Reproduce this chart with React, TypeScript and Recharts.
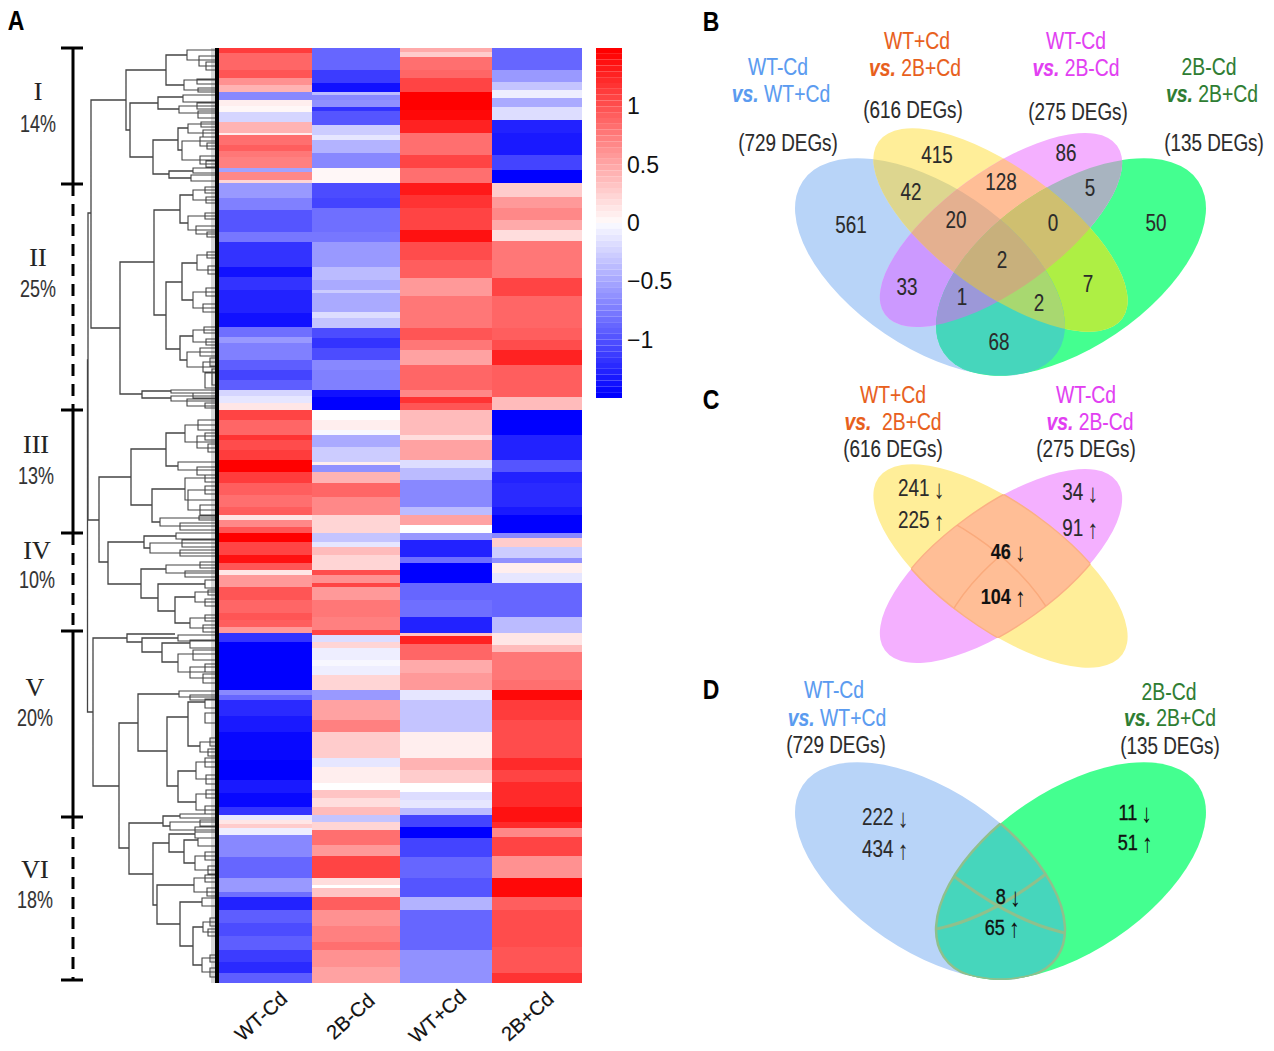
import { BarChart, Bar, XAxis, YAxis, ComposedChart, Line, ScatterChart, Scatter } from "recharts";

// heatmap: each column is a run of bands, edges = last row of the band (935 rows in total)
const samples = ["WT-Cd", "2B-Cd", "WT+Cd", "2B+Cd"];
const wtCdEdges = [5,22,30,37,44,52,58,64,74,85,87,97,103,109,120,124,132,135,150,162,184,194,219,229,242,265,279,289,295,312,322,332,342,348,355,362,372,387,392,402,412,424,435,447,459,467,472,479,485,494,507,515,522,527,539,552,565,572,579,585,594,642,647,652,668,684,712,732,745,759,767,772,776,780,787,809,830,844,849,862,875,888,902,914,925,935];
const wtCdZ = [1.15,.9,1,.65,.45,-.7,.1,.05,-.25,.45,.1,.85,.95,.8,.75,-.55,.7,.25,-.6,-.75,-1,-.8,-1.2,-1.4,-1.2,-1.3,-1.4,-.85,-.6,-.75,-.95,-1.1,-.95,-.25,-.15,.15,1.1,.9,1.2,1.05,1.15,1.5,1.15,.95,.85,.95,.15,.7,1,1.5,1.1,1.4,1,.15,.6,1,.9,1,.95,.6,-1.2,-1.5,-.7,-.9,-1.25,-1.35,-1.45,-1.5,-1.35,-1.45,-1.2,-.15,.15,.3,-.1,-.7,-.9,-.6,-.85,-1.3,-.95,-1.05,-.95,-1.15,-1.25,-.95];
const tbCdEdges = [22,35,44,47,52,59,63,77,87,92,105,120,135,150,160,184,194,219,232,242,245,264,270,280,290,300,312,322,342,349,362,372,382,387,399,414,417,424,435,449,467,485,494,499,507,522,527,535,539,552,569,582,587,594,600,612,618,627,642,652,672,684,710,719,735,742,750,759,767,774,782,797,808,830,837,840,849,862,878,894,902,919,935];
const tbCdZ = [-.9,-1.15,-1.4,-.4,-.7,-.65,-1.2,-1,-.3,-.15,-.45,-.7,.05,-1.05,-1.1,-.85,-.8,-.6,-.4,-.5,-.3,-.5,-.2,-.35,-1.05,-1.2,-1.05,-.7,-.75,-1.4,-1.5,0,.1,-.05,-.5,-.3,.1,-.65,.45,.9,.7,.25,-.35,-.15,.4,.25,1.05,.65,1.1,.6,.8,.75,1.1,-.2,.25,-.1,-.05,-.1,.25,-.6,.55,.75,.3,-.15,.1,0,.35,.2,.4,-.35,.25,.85,.6,1.1,.2,0,.35,.95,.65,.75,.85,.65,.55];
const wtPlusEdges = [4,9,22,30,44,62,72,85,107,120,135,147,160,182,194,212,230,248,280,292,302,317,342,349,355,362,387,392,412,420,432,459,467,477,485,492,509,515,535,552,569,585,588,596,612,625,642,652,684,710,722,735,744,752,760,767,779,790,809,830,849,862,902,935];
const wtPlusZ = [.5,.3,.85,.9,1.1,1.5,1.45,1.3,.85,1.1,.85,1.35,1.2,1.1,1.4,1.05,.95,.6,.8,1,.8,.55,.9,.7,1.2,1,.4,.2,.55,-.2,-.4,-.7,-.4,.55,0,-.6,-1.3,-.85,-1.5,-.9,-.85,-1.3,.35,1.3,.9,.5,.6,-.15,-.35,.1,.45,.3,0,-.2,-.15,-.4,-1.1,-1.5,-1.1,-.9,-1,-.45,-.9,-.65];
const tbPlusEdges = [22,34,42,50,59,72,85,107,122,135,149,160,172,182,193,230,248,280,292,302,317,349,362,387,412,424,435,459,467,485,490,499,510,515,525,535,569,585,597,604,632,642,652,672,710,722,734,759,774,780,789,808,830,849,862,899,925,935];
const tbPlusZ = [-.9,-.6,-.35,-.1,-.5,-.2,-1.3,-1.35,-1.1,-1.5,.3,.6,.7,.5,.2,.8,1.1,.9,.95,1.05,1.3,.95,.4,-1.5,-1.3,-1,-1.3,-1.25,-1.35,-1.5,-.7,.3,-.3,-.65,.1,-.15,-.9,-.4,.15,.4,.8,.85,1.45,1.15,1.05,1.25,1.1,1.25,1.4,1.25,.7,1.1,.65,1.45,.95,1.05,1,1.2];
const heatColumns = [
  { sample: samples[0], edges: wtCdEdges, z: wtCdZ, left: 219, width: 93, shift: -4 },
  { sample: samples[1], edges: tbCdEdges, z: tbCdZ, left: 312, width: 88, shift: -5 },
  { sample: samples[2], edges: wtPlusEdges, z: wtPlusZ, left: 400, width: 92, shift: -8 },
  { sample: samples[3], edges: tbPlusEdges, z: tbPlusZ, left: 492, width: 90, shift: -9 },
];

// colour key levels
const keyPositive = [.05,.1,.15,.2,.25,.3,.35,.4,.45,.5,.55,.6,.65,.7,.75,.8,.85,.9,.95,1,1.05,1.1,1.15,1.2,1.25,1.3,1.35,1.4,1.45,1.5];
const keyTicks = [-1, -0.5, 0, 0.5, 1];

// dendrogram brackets: [x of the stem, top row, bottom row, x where top arm ends, x where bottom arm ends]
const mainBrackets = [
  [88,213,520,91,99],[87.5,360,712,88,93],[91,100,328,126,120],[126,70,130,166,130],[166,55,85,187,184],[130,103,157,158,153],
  [158,97,109,183,179],[153,140,174,178,169],[178,128,150,188,182],[169,171,178,193,191],[120,262,394,154,142],[154,210,315,180,166],
  [180,195,223,193,188],[166,282,349,182,180],[182,263,300,197,193],[180,336,360,193,187],[142,391,398,171,171],[99,477,562,131,108],
  [131,449,505,166,152],[166,433,466,185,178],[152,489,522,185,160],[108,542,584,144,141],[144,536,548,176,150],[141,569,598,166,158],
  [158,584,611,205,175],[175,597,623,195,190],[93,638,786,127,119],[127,634,642,175,142],[142,638,652,178,162],[162,643,662,190,178],
  [119,723,848,138,129],[138,694,751,179,167],[167,717,786,188,178],[188,702,746,205,200],[178,771,802,196,196],[129,823,874,163,153],
  [163,816,826,180,170],[153,843,905,169,157],[169,834,852,195,184],[184,840,863,198,195],[157,885,924,194,180],[180,902,946,202,193],
  [193,927,965,203,202],
];
const fineBrackets = [
  [187,50,60,212,199],[199,56,66,208,206],[206,62,70,214,212],[184,80,90,197,198],[197,79,84,208,205],[198,88,92,210,207],
  [183,95,102,205,203],[179,106,113,197,198],[197,103,109,208,205],[198,111,118,207,205],[188,124,133,201,203],[201,122,127,211,209],
  [203,130,137,212,208],[182,141,160,200,200],[200,137,146,209,207],[200,156,164,209,206],[207,143,149,215,213],[206,161,167,214,212],
  [193,168,173,207,205],[191,175,181,204,207],[193,190,200,205,206],[205,187,193,213,211],[206,197,203,214,212],[188,216,230,205,196],
  [205,213,219,213,211],[196,226,234,205,207],[207,232,237,214,212],[197,255,270,207,208],[207,252,258,213,212],[208,266,274,214,212],
  [193,292,308,206,203],[206,288,296,214,212],[203,304,312,212,210],[193,330,342,204,206],[204,327,333,213,211],[206,339,345,214,212],
  [187,352,367,200,203],[200,348,356,212,210],[203,362,372,210,212],[210,358,366,216,214],[212,369,385,215,214],[205,373,388,214,213],
  [171,390,393,205,215],[171,396,401,193,187],[193,393,398,210,208],[187,399,406,205,205],[205,403,408,214,212],
  [185,425,442,198,197],[198,420,430,208,205],[197,436,448,205,208],[205,433,440,214,212],[208,444,452,214,213],[178,462,470,205,197],
  [197,467,475,210,208],[185,478,500,205,188],[205,475,482,214,212],[188,490,510,205,200],[205,486,494,214,212],[200,505,515,210,208],
  [160,518,526,199,180],[180,523,530,200,205],[199,516,520,212,210],[150,543,553,182,180],[176,533,539,196,195],[182,540,547,205,203],
  [180,550,556,205,200],[166,565,573,200,185],[185,571,577,205,207],[200,562,568,212,210],[205,580,588,214,213],[195,592,602,208,205],
  [190,618,628,205,203],[208,590,595,216,214],[205,599,606,215,213],[205,615,621,214,212],[203,625,632,213,212],
  [178,635,641,200,210],[190,640,648,205,205],[178,654,672,193,190],[193,650,660,206,205],[190,667,678,205,203],[205,664,672,214,212],
  [203,674,683,214,212],[179,691,697,200,190],[190,695,700,210,205],[205,699,708,214,212],[205,713,723,213,212],[200,742,752,210,208],
  [210,738,746,216,214],[208,749,756,215,213],[196,762,779,205,206],[205,758,767,214,212],[206,775,784,214,212],[196,794,810,206,205],
  [206,790,798,214,212],[205,806,814,214,212],[180,814,818,205,200],[170,822,830,200,195],[200,820,826,213,210],[195,827,832,212,210],
  [195,830,838,208,205],[198,838,846,210,208],[195,856,870,205,208],[205,852,860,213,212],[208,866,874,214,212],[194,878,892,205,207],
  [205,875,882,214,212],[207,888,896,214,212],[202,898,906,210,212],[203,922,932,210,208],[202,958,972,208,210],[210,955,962,216,214],
  [210,968,977,216,214],[210,918,926,215,213],[208,929,936,215,214],
];
const clusterRows = [48, 184, 410, 533, 631, 817, 980];
const clusterNames = ["I", "II", "III", "IV", "V", "VI"];
const clusterShares = ["14%", "25%", "13%", "10%", "20%", "18%"];

// venn counts
const fourWayCounts = ["561","415","86","42","128","5","20","0","50","2","33","7","1","2","68"];
const wtPlusCounts = ["241 ↓", "225 ↑"];
const wtMinusCounts = ["34 ↓", "91 ↑"];
const sharedCCounts = ["46 ↓", "104 ↑"];
const wtSetCounts = ["222 ↓", "434 ↑"];
const tbSetCounts = ["11 ↓", "51 ↑"];
const sharedDCounts = ["8 ↓", "65 ↑"];

const FONT = "'Liberation Sans', Arial, sans-serif";
const zColor = (z: number) => {
  const s = Math.min(Math.abs(z) / 1.5, 1);
  const c = Math.round(255 * (1 - s));
  return z >= 0 ? `rgb(255,${c},${c})` : `rgb(${c},${c},255)`;
};

function Txt({ x, y, size = 23, sx = 0.82, color = "#2b2b2b", bold = false, serif = false, weight = 0.12, children }: any) {
  return (
    <div
      style={{
        position: "absolute", left: x, top: y, whiteSpace: "pre", lineHeight: 1,
        transform: `translate(-50%,-50%) scaleX(${sx})`,
        fontFamily: serif ? "'Liberation Serif', serif" : FONT,
        fontSize: size, color, fontWeight: bold ? 700 : 400,
        WebkitTextStroke: `${weight}px ${color}`,
      }}
    >
      {children}
    </div>
  );
}

// number followed by a tall thin arrow
function Count({ label, ...rest }: any) {
  const [num, arrow] = label.split(" ");
  return (
    <Txt {...rest}>
      {num}
      <span style={{ fontSize: 26, fontWeight: 400, verticalAlign: -2, marginLeft: 5, marginRight: -3, WebkitTextStroke: "0px", lineHeight: 0 }}>{arrow}</span>
    </Txt>
  );
}

function HeatColumn({ sample, edges, z, left, width, shift }: any) {
  const row: any = { sample };
  edges.forEach((e: number, i: number) => { row[`b${i}`] = e - (i ? edges[i - 1] : 0); });
  const tick = ({ x, y, payload }: any) => (
    <text x={x + shift} y={y + 32} textAnchor="middle" fontFamily={FONT} fontSize={20} fill="#111" stroke="#111" strokeWidth={0.2}
      transform={`rotate(-42 ${x + shift} ${y + 26})`}>
      {payload.value}
    </text>
  );
  return (
    <div style={{ position: "absolute", left, top: 48 }}>
      <BarChart width={width} height={1000} data={[row]} margin={{ top: 0, right: 0, bottom: 0, left: 0 }} barCategoryGap={0}>
        <XAxis dataKey="sample" height={65} axisLine={false} tickLine={false} tick={tick} interval={0} />
        <YAxis hide reversed domain={[0, 935]} allowDataOverflow />
        {edges.map((_: number, i: number) => (
          <Bar key={i} dataKey={`b${i}`} stackId="a" fill={zColor(z[i])} isAnimationActive={false} shapeRendering="crispEdges" />
        ))}
      </BarChart>
    </div>
  );
}

function ColorKey() {
  const row: any = { k: "z" };
  const keys: { id: string; z: number }[] = [];
  keyPositive.forEach((v, i) => {
    row[`p${i}`] = 0.05; row[`n${i}`] = -0.05;
    keys.push({ id: `p${i}`, z: v }, { id: `n${i}`, z: -v });
  });
  return (
    <div style={{ position: "absolute", left: 596, top: 48 }}>
      <BarChart width={90} height={350} data={[row]} stackOffset="sign" margin={{ top: 0, right: 0, bottom: 0, left: 0 }} barCategoryGap={0}>
        <XAxis dataKey="k" hide />
        <YAxis orientation="right" width={64} domain={[-1.5, 1.5]} ticks={keyTicks} tickSize={0} tickMargin={5} axisLine={false} tickLine={false}
          interval={0} allowDataOverflow tick={{ fontFamily: FONT, fontSize: 23, fill: "#111" }}
          tickFormatter={(v: number) => String(v).replace("-", "\u2212")} />
        {keys.map((k) => (
          <Bar key={k.id} dataKey={k.id} stackId="k" fill={zColor(k.z)} isAnimationActive={false} />
        ))}
      </BarChart>
    </div>
  );
}

function Dendrogram() {
  const points: any[] = [];
  mainBrackets.forEach((b) => {
    points.push({ x: b[3], y: b[1] }, { x: b[0], y: b[1] }, { x: b[0], y: b[2] }, { x: b[4], y: b[2] }, { x: b[4], y: null });
  });
  const finePoints: any[] = [];
  fineBrackets.forEach((b) => {
    finePoints.push({ x: 219, y: b[1] }, { x: b[0], y: b[1] }, { x: b[0], y: b[2] }, { x: 219, y: b[2] }, { x: 219, y: null });
  });
  const solid: any[] = [];
  const dashed: any[] = [];
  const caps: any[] = [];
  clusterRows.forEach((r, i) => {
    caps.push({ x: 61, y: r }, { x: 83, y: r }, { x: 83, y: null });
    if (i < clusterRows.length - 1) {
      const list = i % 2 === 0 ? solid : dashed;
      list.push({ x: 73, y: r }, { x: 73, y: clusterRows[i + 1] }, { x: 73, y: null });
    }
  });
  const band = [{ x: 217, y: 48 }, { x: 217, y: 983 }];
  const grey = [{ x: 213, y: 48 }, { x: 213, y: 983 }];
  return (
    <div style={{ position: "absolute", left: 60, top: 46 }}>
      <ComposedChart width={160} height={944} margin={{ top: 0, right: 0, bottom: 0, left: 0 }}>
        <XAxis type="number" dataKey="x" hide domain={[60, 220]} allowDataOverflow />
        <YAxis type="number" hide reversed domain={[46, 990]} allowDataOverflow />
        <Line data={grey} dataKey="y" stroke="#777" strokeWidth={4} strokeOpacity={0.3} dot={false} isAnimationActive={false} />
        <Line data={points} dataKey="y" stroke="#444" strokeWidth={1.3} dot={false} isAnimationActive={false} />
        <Line data={finePoints} dataKey="y" stroke="#444" strokeWidth={1.1} dot={false} isAnimationActive={false} />
        <Line data={band} dataKey="y" stroke="#000" strokeWidth={4} dot={false} isAnimationActive={false} />
        <Line data={solid} dataKey="y" stroke="#000" strokeWidth={3} dot={false} isAnimationActive={false} />
        <Line data={dashed} dataKey="y" stroke="#000" strokeWidth={3} strokeDasharray="12 8" dot={false} isAnimationActive={false} />
        <Line data={caps} dataKey="y" stroke="#000" strokeWidth={3} dot={false} isAnimationActive={false} />
      </ComposedChart>
    </div>
  );
}

// venn ellipses, in the units of each panel's axes
const vennEllipse = (dy: number): any => ({
  blue: { x: 930, y: 267 + dy, a: 153.5, b: 80.5, angle: 34 },
  green: { x: 1071, y: 267 + dy, a: 153.5, b: 80.5, angle: -34 },
  yellow: { x: 1000.5, y: 230 + dy, a: 150.6, b: 61.8, angle: 36 },
  magenta: { x: 1001, y: 230 + dy, a: 143.5, b: 59, angle: -36 },
});

const regionsB = [
  ["blue", "#B8D4F8"], ["green", "#44FF90"], ["yellow", "#FFEE99"], ["magenta", "#F4B0FF"],
  ["blue yellow", "#DDD68F"], ["blue magenta", "#CC99FF"], ["yellow magenta", "#FFBE96"], ["green magenta", "#A8B4C0"],
  ["green yellow", "#AEEF44"], ["blue green", "#46D6BC"], ["blue yellow magenta", "#E4B090"], ["yellow magenta green", "#CFBF70"],
  ["blue magenta green", "#9C98D8"], ["blue yellow green", "#A8D870"], ["blue yellow magenta green", "#C8B07C"],
];
const regionsC = [["yellow", "#FFEE99"], ["magenta", "#F4B0FF"], ["yellow magenta", "#FFBE96"]];
const regionsD = [["blue", "#B8D4F8"], ["green", "#44FF90"], ["blue green", "#46D6BC"]];
const outlinesC = [
  ["yellow magenta", "#FBB084", 1.5], ["magenta yellow", "#FBB084", 1.5],
  ["blue yellow magenta", "#FAAA7C", 1.5], ["green yellow magenta blue", "#FAAA7C", 1.5],
];
const outlinesD = [
  ["blue green", "#8FC08C", 2.5], ["green blue", "#8FC08C", 2.5],
  ["yellow blue green", "#8FC08C", 3], ["magenta blue green", "#8FC08C", 3],
];

function VennShape(props: any) {
  const { cx, cy, payload: p } = props;
  const names: string[] = p.names;
  const own = p.ellipses[names[0]];
  const ell = (n: string) => {
    const e = p.ellipses[n];
    const ex = cx + e.x - own.x;
    const ey = cy + e.y - own.y;
    return { cx: ex, cy: ey, rx: e.a, ry: e.b, transform: `rotate(${e.angle} ${ex} ${ey})` };
  };
  let body: any = p.stroke
    ? <ellipse {...ell(names[0])} fill="none" stroke={p.stroke} strokeWidth={p.sw} />
    : <ellipse {...ell(names[0])} fill={p.fill} />;
  const clips = names.slice(1);
  clips.forEach((n, i) => {
    body = <g clipPath={`url(#${p.id}-${i})`}>{body}</g>;
  });
  return (
    <g>
      <defs>
        {clips.map((n, i) => (
          <clipPath key={n} id={`${p.id}-${i}`}>
            <ellipse {...ell(n)} />
          </clipPath>
        ))}
      </defs>
      {body}
    </g>
  );
}

function VennPanel({ id, dy, regions, outlines = [] }: any) {
  const ellipses = vennEllipse(dy);
  const toPoint = (names: string[], extra: any, i: number) => ({
    x: ellipses[names[0]].x, y: ellipses[names[0]].y, names, ellipses, id: `${id}-${i}`, ...extra,
  });
  const data = [
    ...regions.map((r: any, i: number) => toPoint(r[0].split(" "), { fill: r[1] }, i)),
    ...outlines.map((r: any, i: number) => toPoint(r[0].split(" "), { stroke: r[1], sw: r[2] }, 100 + i)),
  ];
  const top = 120 + dy;
  return (
    <div style={{ position: "absolute", left: 780, top }}>
      <ScatterChart width={440} height={265} margin={{ top: 0, right: 0, bottom: 0, left: 0 }}>
        <XAxis type="number" dataKey="x" hide domain={[780, 1220]} allowDataOverflow />
        <YAxis type="number" dataKey="y" hide reversed domain={[top, top + 265]} allowDataOverflow />
        <Scatter data={data} shape={VennShape} isAnimationActive={false} />
      </ScatterChart>
    </div>
  );
}

const orange = "#E8601C";
const skyblue = "#5A9BF0";
const pink = "#E23FF2";
const forest = "#2E7D32";
const Vs = () => <i style={{ fontWeight: 700 }}>vs.</i>;

const bCountAt = [[851,225],[937,155],[1066,153],[911,192],[1001,182],[1090,188],[956,220],[1053,223],[1156,223],[1002,260],[907,287],[1088,284],[962,297],[1039,303],[999,342]];
const clusterAt = [[38,92,124],[38,258,289],[36,445,476],[37,551,580],[35,688,718],[35,870,900]];

export default function App() {
  return (
    <div style={{ position: "relative", width: 1274, height: 1051, margin: -8, background: "#fff", overflow: "hidden" }}>
      <Txt x={16} y={21} size={27} sx={0.85} color="#000" bold>A</Txt>
      <Txt x={711} y={22} size={27} sx={0.85} color="#000" bold>B</Txt>
      <Txt x={711} y={400} size={27} sx={0.85} color="#000" bold>C</Txt>
      <Txt x={711} y={690} size={27} sx={0.85} color="#000" bold>D</Txt>

      <Dendrogram />
      {clusterNames.map((n, i) => (
        <div key={n}>
          <Txt x={clusterAt[i][0]} y={clusterAt[i][1]} size={26} sx={1} serif color="#222">{n}</Txt>
          <Txt x={clusterAt[i][0]} y={clusterAt[i][2]} size={23} sx={0.78} color="#333">{clusterShares[i]}</Txt>
        </div>
      ))}
      {heatColumns.map((c) => <HeatColumn key={c.sample} {...c} />)}
      <ColorKey />

      <VennPanel id="b" dy={0} regions={regionsB} />
      <VennPanel id="c" dy={336} regions={regionsC} outlines={outlinesC} />
      <VennPanel id="d" dy={604} regions={regionsD} outlines={outlinesD} />

      <Txt x={778} y={67} sx={0.84} color={skyblue}>WT-Cd</Txt>
      <Txt x={781} y={94} sx={0.84} color={skyblue}><Vs /> WT+Cd</Txt>
      <Txt x={788} y={143}>(729 DEGs)</Txt>
      <Txt x={917} y={41} sx={0.84} color={orange}>WT+Cd</Txt>
      <Txt x={915} y={68} sx={0.84} color={orange}><Vs /> 2B+Cd</Txt>
      <Txt x={913} y={110}>(616 DEGs)</Txt>
      <Txt x={1076} y={41} sx={0.84} color={pink}>WT-Cd</Txt>
      <Txt x={1076} y={68} sx={0.84} color={pink}><Vs /> 2B-Cd</Txt>
      <Txt x={1078} y={112}>(275 DEGs)</Txt>
      <Txt x={1209} y={67} sx={0.84} color={forest}>2B-Cd</Txt>
      <Txt x={1212} y={94} sx={0.84} color={forest}><Vs /> 2B+Cd</Txt>
      <Txt x={1214} y={143}>(135 DEGs)</Txt>
      {fourWayCounts.map((c, i) => <Txt key={i} x={bCountAt[i][0]} y={bCountAt[i][1]}>{c}</Txt>)}

      <Txt x={893} y={395} sx={0.84} color={orange}>WT+Cd</Txt>
      <Txt x={893} y={422} sx={0.84} color={orange}><Vs />  2B+Cd</Txt>
      <Txt x={893} y={449}>(616 DEGs)</Txt>
      <Txt x={1086} y={395} sx={0.84} color={pink}>WT-Cd</Txt>
      <Txt x={1090} y={422} sx={0.84} color={pink}><Vs /> 2B-Cd</Txt>
      <Txt x={1086} y={449}>(275 DEGs)</Txt>
      <Count x={920} y={488} label={wtPlusCounts[0]} />
      <Count x={920} y={520} label={wtPlusCounts[1]} />
      <Count x={1079} y={492} label={wtMinusCounts[0]} />
      <Count x={1079} y={528} label={wtMinusCounts[1]} />
      <Count x={1007} y={552} size={22} bold color="#111" label={sharedCCounts[0]} />
      <Count x={1002} y={597} size={22} bold color="#111" label={sharedCCounts[1]} />

      <Txt x={834} y={690} sx={0.84} color={skyblue}>WT-Cd</Txt>
      <Txt x={837} y={718} sx={0.84} color={skyblue}><Vs /> WT+Cd</Txt>
      <Txt x={836} y={745}>(729 DEGs)</Txt>
      <Txt x={1169} y={692} sx={0.84} color={forest}>2B-Cd</Txt>
      <Txt x={1170} y={718} sx={0.84} color={forest}><Vs /> 2B+Cd</Txt>
      <Txt x={1170} y={746}>(135 DEGs)</Txt>
      <Count x={884} y={817} label={wtSetCounts[0]} />
      <Count x={884} y={849} label={wtSetCounts[1]} />
      <Count x={1134} y={813} size={22} color="#111" weight={0.4} label={tbSetCounts[0]} />
      <Count x={1134} y={843} size={22} color="#111" weight={0.4} label={tbSetCounts[1]} />
      <Count x={1007} y={897} size={22} color="#111" weight={0.4} label={sharedDCounts[0]} />
      <Count x={1001} y={928} size={22} color="#111" weight={0.4} label={sharedDCounts[1]} />
    </div>
  );
}
